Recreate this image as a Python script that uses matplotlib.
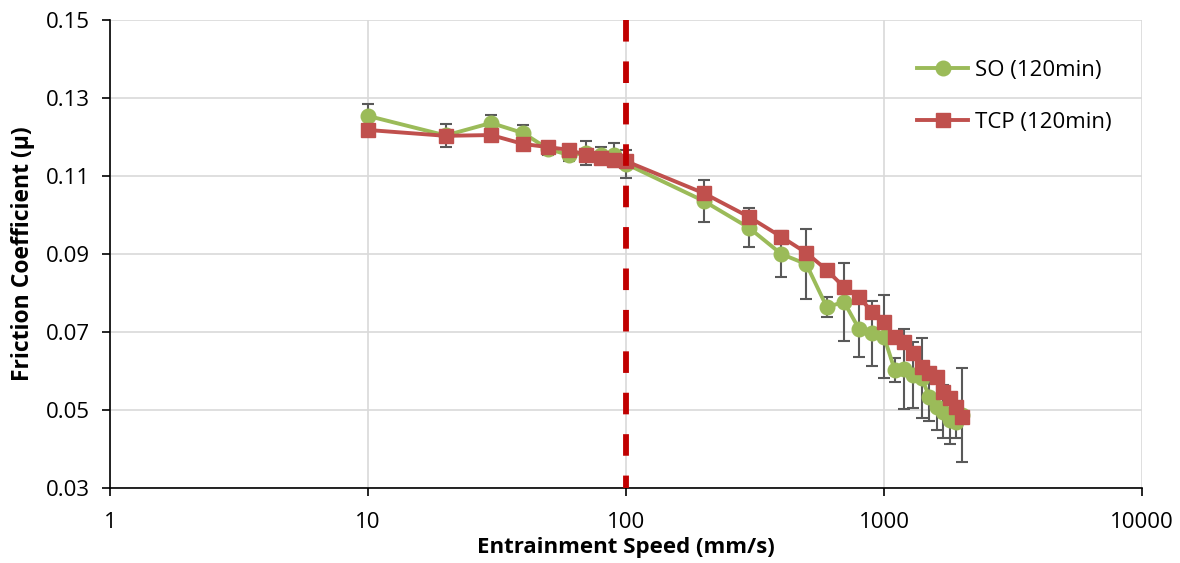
import matplotlib
matplotlib.use("Agg")
import matplotlib.pyplot as plt
from matplotlib.ticker import FixedLocator, NullLocator, FixedFormatter

plt.rcParams['font.family'] = ['Open Sans', 'DejaVu Sans']

speed = [10, 20, 30, 40, 50, 60, 70, 80, 90, 100,
         200, 300, 400, 500, 600, 700, 800, 900, 1000,
         1100, 1200, 1300, 1400, 1500, 1600, 1700, 1800, 1900, 2000]

so_mu = [0.1254, 0.1204, 0.1236, 0.1210, 0.1169, 0.1154, 0.1159, 0.1154, 0.1154, 0.1131,
         0.1036, 0.0967, 0.0900, 0.0874, 0.0764, 0.0777, 0.0708, 0.0697, 0.0688,
         0.0603, 0.0605, 0.0590, 0.0582, 0.0533, 0.0508, 0.0495, 0.0474, 0.0469, 0.0487]
so_err = [0.0030, 0.0030, 0.0020, 0.0020, 0.0015, 0.0015, 0.0030, 0.0020, 0.0030, 0.0036,
          0.0055, 0.0050, 0.0060, 0.0090, 0.0025, 0.0100, 0.0072, 0.0083, 0.0107,
          0.0030, 0.0103, 0.0085, 0.0102, 0.0060, 0.0060, 0.0068, 0.0060, 0.0040, 0.0120]

tcp_mu = [0.1218, 0.1203, 0.1205, 0.1182, 0.1174, 0.1167, 0.1154, 0.1146, 0.1141, 0.1138,
          0.1056, 0.0995, 0.0944, 0.0903, 0.0859, 0.0815, 0.0790, 0.0751, 0.0726,
          0.0687, 0.0674, 0.0646, 0.0610, 0.0595, 0.0585, 0.0546, 0.0531, 0.0508, 0.0482]

y_ticks = [0.03, 0.05, 0.07, 0.09, 0.11, 0.13, 0.15]
y_labels = ["0.03", "0.05", "0.07", "0.09", "0.11", "0.13", "0.15"]
x_ticks = [1, 10, 100, 1000, 10000]
x_labels = ["1", "10", "100", "1000", "10000"]
threshold_speed = 100

green = "#9BBB59"
red = "#C0504D"

fig = plt.figure(figsize=(11.8, 5.63), dpi=100)
ax = fig.add_axes([0.0932, 0.1332, 0.8746, 0.8313])

ax.set_xscale('log')
ax.set_xlim(1, 10000)
ax.set_ylim(0.03, 0.15)

ax.axvline(threshold_speed, ymin=1, ymax=0, color="#C00000", lw=4.2,
           dashes=(3.7, 3.4), solid_capstyle='butt', dash_capstyle='butt', zorder=5)

ax.errorbar(speed, so_mu, yerr=so_err, fmt='none', ecolor="#595959",
            elinewidth=1.5, capsize=4, capthick=1.5, zorder=2)
ax.plot(speed, so_mu, color=green, lw=2.8, marker='o', markersize=10.5,
        label="SO (120min)", zorder=3)
ax.plot(speed, tcp_mu, color=red, lw=2.8, marker='s', markersize=10,
        label="TCP (120min)", zorder=4)

ax.xaxis.set_major_locator(FixedLocator(x_ticks))
ax.xaxis.set_major_formatter(FixedFormatter(x_labels))
ax.xaxis.set_minor_locator(NullLocator())
ax.yaxis.set_major_locator(FixedLocator(y_ticks))
ax.yaxis.set_major_formatter(FixedFormatter(y_labels))

ax.grid(True, color="#D9D9D9", lw=1.2, zorder=0)
ax.set_axisbelow(True)
for s in ['top', 'right']:
    ax.spines[s].set_visible(False)
for s in ['left', 'bottom']:
    ax.spines[s].set_color("black")
    ax.spines[s].set_linewidth(1.2)
ax.tick_params(axis='both', direction='out', length=5.5, width=1.2, labelsize=16,
               colors='black')
ax.tick_params(axis='y', pad=9)
ax.tick_params(axis='x', pad=12)

ax.set_xlabel("Entrainment Speed (mm/s)", fontsize=16, fontweight='bold', labelpad=3)
ax.set_ylabel("Friction Coefficient (μ)", fontsize=16.5, fontweight='bold', labelpad=8)

leg = ax.legend(loc='upper right', bbox_to_anchor=(0.99, 0.957), frameon=False,
                fontsize=16, labelspacing=1.38, handlelength=2.3, handletextpad=0.3)

fig.savefig("out.png", dpi=100)
